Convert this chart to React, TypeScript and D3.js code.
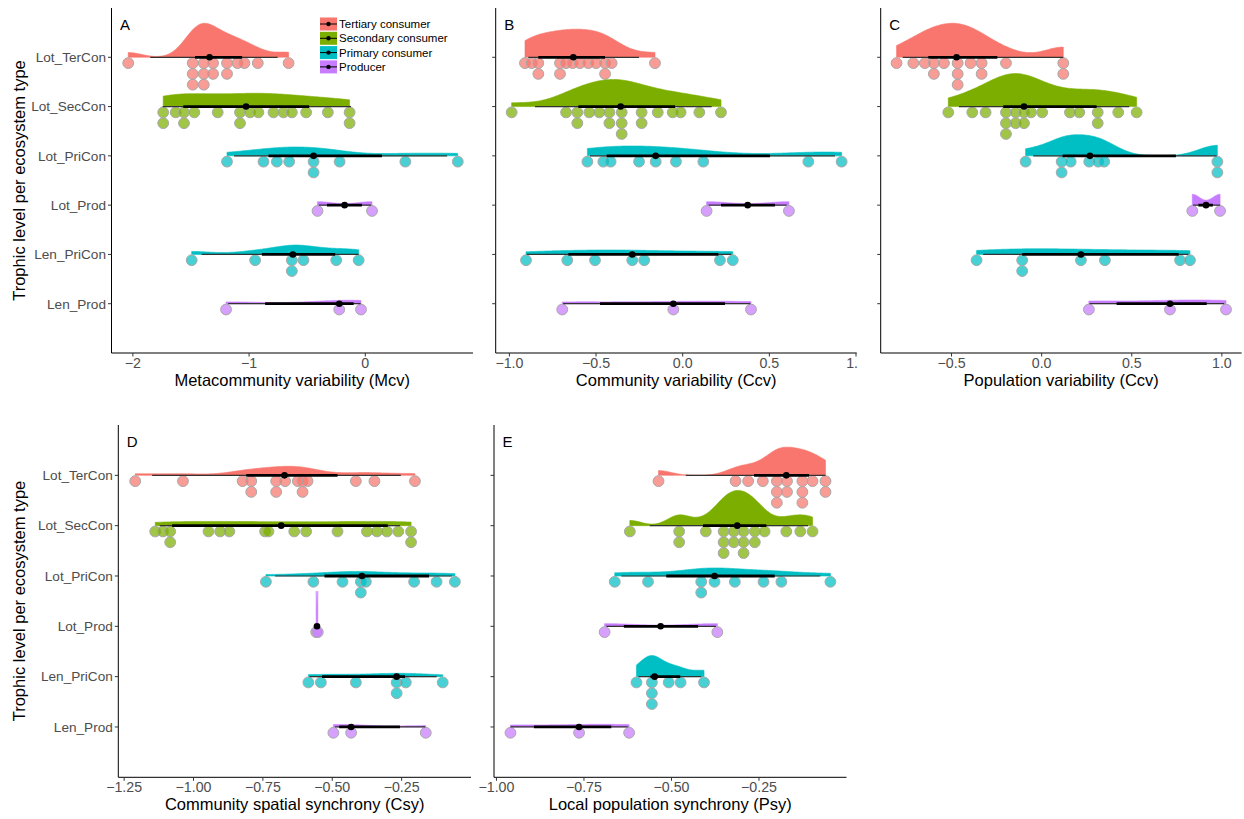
import React from "react";
import * as d3 from "d3";

// categories on the y axis (top to bottom) and their trophic level
const categories = ["Lot_TerCon", "Lot_SecCon", "Lot_PriCon", "Lot_Prod", "Len_PriCon", "Len_Prod"];
const trophicLevels = ["Tertiary consumer", "Secondary consumer", "Primary consumer", "Producer"];
const categoryLevel = [0, 1, 2, 3, 2, 3];
const levelColors = ["#F8766D", "#7CAE00", "#00BFC4", "#C77CFF"];

// A: Metacommunity variability (Mcv)
const mcvDots = [
  [-2.04, -1.485, -1.485, -1.485, -1.39, -1.39, -1.39, -1.31, -1.31, -1.19, -1.19, -1.1, -1.04, -0.925, -0.66],
  [-1.739, -1.739, -1.632, -1.56, -1.56, -1.471, -1.27, -1.078, -1.078, -0.991, -0.92, -0.79, -0.704, -0.632, -0.509, -0.322, -0.135, -0.135],
  [-1.19, -0.876, -0.761, -0.655, -0.445, -0.445, -0.221, 0.345, 0.796],
  [-0.411, 0.058],
  [-1.494, -0.948, -0.632, -0.632, -0.532, -0.25, -0.057],
  [-1.198, -0.224, -0.037],
];
const mcvMedian = [-1.34, -1.026, -0.445, -0.178, -0.623, -0.224];
const mcvInner = [[-1.465, -1.06], [-1.566, -0.483], [-0.833, 0.144], [-0.33, -0.029], [-0.89, -0.259], [-0.862, -0.1]];
const mcvOuter = [[-1.85, -0.755], [-1.744, -0.123], [-1.129, 0.704], [-0.4, 0.05], [-1.408, -0.057], [-1.18, -0.04]];
const mcvPeak = [0.69, 0.27, 0.18, 0.07, 0.19, 0.07];

// B: Community variability (Ccv)
const ccvDots = [
  [-0.91, -0.871, -0.833, -0.833, -0.708, -0.708, -0.673, -0.635, -0.593, -0.545, -0.5, -0.448, -0.448, -0.41, -0.16],
  [-0.987, -0.673, -0.608, -0.608, -0.539, -0.481, -0.423, -0.423, -0.352, -0.352, -0.352, -0.237, -0.237, -0.144, -0.058, -0.012, 0.096, 0.221],
  [-0.55, -0.458, -0.416, -0.252, -0.156, -0.039, 0.119, 0.725, 0.917],
  [0.138, 0.613],
  [-0.904, -0.666, -0.506, -0.291, -0.222, 0.215, 0.289],
  [-0.695, -0.054, 0.394],
];
const ccvMedian = [-0.631, -0.358, -0.156, 0.375, -0.291, -0.054];
const ccvInner = [[-0.833, -0.448], [-0.602, -0.044], [-0.439, 0.504], [0.221, 0.533], [-0.66, 0.206], [-0.477, 0.244]];
const ccvOuter = [[-0.891, -0.252], [-0.852, 0.167], [-0.535, 0.879], [0.15, 0.6], [-0.9, 0.28], [-0.69, 0.39]];
const ccvPeak = [0.57, 0.55, 0.2, 0.07, 0.09, 0.05];

// C: Population variability (Ccv)
const popDots = [
  [-0.805, -0.712, -0.648, -0.598, -0.598, -0.542, -0.466, -0.466, -0.466, -0.394, -0.333, -0.333, -0.198, 0.12, 0.12],
  [-0.518, -0.385, -0.311, -0.198, -0.198, -0.198, -0.144, -0.144, -0.098, -0.098, -0.059, 0.003, 0.157, 0.209, 0.311, 0.311, 0.425, 0.527],
  [-0.089, 0.111, 0.111, 0.161, 0.264, 0.314, 0.347, 0.975, 0.975],
  [0.836, 0.99],
  [-0.361, -0.108, -0.108, 0.218, 0.351, 0.768, 0.823],
  [0.262, 0.712, 1.023],
];
const popMedian = [-0.472, -0.098, 0.268, 0.912, 0.218, 0.712];
const popInner = [[-0.629, -0.246], [-0.213, 0.305], [0.116, 0.745], [0.87, 0.95], [-0.108, 0.76], [0.416, 0.916]];
const popOuter = [[-0.771, 0.12], [-0.459, 0.486], [-0.046, 0.971], [0.84, 0.99], [-0.324, 0.814], [0.266, 1.013]];
const popPeak = [0.69, 0.67, 0.43, 0.22, 0.115, 0.075];

// D: Community spatial synchrony (Csy)
const csyDots = [
  [-1.21, -1.038, -0.823, -0.792, -0.792, -0.702, -0.702, -0.67, -0.624, -0.607, -0.607, -0.589, -0.415, -0.348, -0.202],
  [-1.138, -1.11, -1.084, -1.084, -0.946, -0.904, -0.871, -0.742, -0.73, -0.637, -0.594, -0.481, -0.375, -0.339, -0.303, -0.262, -0.216, -0.216],
  [-0.739, -0.568, -0.463, -0.397, -0.397, -0.379, -0.205, -0.124, -0.058],
  [-0.558, -0.552],
  [-0.586, -0.541, -0.415, -0.268, -0.268, -0.235, -0.102],
  [-0.496, -0.432, -0.163],
];
const csyMedian = [-0.672, -0.684, -0.393, -0.555, -0.268, -0.432];
const csyInner = [[-0.81, -0.481], [-1.077, -0.3], [-0.528, -0.151], [-0.557, -0.553], [-0.537, -0.238], [-0.475, -0.256]];
const csyOuter = [[-1.149, -0.253], [-1.122, -0.256], [-0.706, -0.069], [-0.558, -0.552], [-0.582, -0.124], [-0.49, -0.165]];
const csyPeak = [0.18, 0.085, 0.09, 0.7, 0.066, 0.05];

// E: Local population synchrony (Psy)
const psyDots = [
  [-0.537, -0.317, -0.281, -0.239, -0.199, -0.199, -0.199, -0.17, -0.17, -0.126, -0.126, -0.126, -0.097, -0.06, -0.06],
  [-0.619, -0.478, -0.478, -0.402, -0.351, -0.351, -0.351, -0.322, -0.322, -0.294, -0.294, -0.294, -0.262, -0.262, -0.234, -0.172, -0.132, -0.097],
  [-0.662, -0.567, -0.415, -0.415, -0.377, -0.319, -0.237, -0.186, -0.046],
  [-0.691, -0.369],
  [-0.6, -0.556, -0.556, -0.556, -0.508, -0.474, -0.407],
  [-0.96, -0.764, -0.621],
];
const psyMedian = [-0.172, -0.312, -0.377, -0.531, -0.548, -0.764];
const psyInner = [[-0.264, -0.107], [-0.41, -0.229], [-0.515, -0.205], [-0.636, -0.424], [-0.56, -0.475], [-0.893, -0.672]];
const psyOuter = [[-0.459, -0.06], [-0.562, -0.11], [-0.643, -0.075], [-0.686, -0.373], [-0.594, -0.415], [-0.96, -0.625]];
const psyPeak = [0.56, 0.7, 0.16, 0.053, 0.42, 0.053];

const FONT = "'Liberation Sans', Arial, Helvetica, sans-serif";
const DOT_R = 5.4;

const panels = [
  { id: "A", title: "Metacommunity variability (Mcv)", left: 111.5, right: 473, top: 8, bottom: 353,
    domain: [-2.184, 0.927], ticks: [-2, -1, 0], fmt: "d", yLabels: true,
    dots: mcvDots, median: mcvMedian, inner: mcvInner, outer: mcvOuter, peak: mcvPeak },
  { id: "B", title: "Community variability (Ccv)", left: 495.7, right: 856.7, top: 8, bottom: 353,
    domain: [-1.079, 1.004], ticks: [-1, -0.5, 0, 0.5, 1], fmt: ".1f", yLabels: false, clipRight: 858,
    dots: ccvDots, median: ccvMedian, inner: ccvInner, outer: ccvOuter, peak: ccvPeak },
  { id: "C", title: "Population variability (Ccv)", left: 880.7, right: 1241.7, top: 8, bottom: 353,
    domain: [-0.893, 1.11], ticks: [-0.5, 0, 0.5, 1], fmt: ".1f", yLabels: false,
    dots: popDots, median: popMedian, inner: popInner, outer: popOuter, peak: popPeak },
  { id: "D", title: "Community spatial synchrony (Csy)", left: 118.3, right: 471, top: 425, bottom: 777.3,
    domain: [-1.271, 0], ticks: [-1.25, -1, -0.75, -0.5, -0.25], fmt: ".2f", yLabels: true,
    dots: csyDots, median: csyMedian, inner: csyInner, outer: csyOuter, peak: csyPeak },
  { id: "E", title: "Local population synchrony (Psy)", left: 494, right: 846.5, top: 425, bottom: 777.3,
    domain: [-1.007, 0], ticks: [-1, -0.75, -0.5, -0.25], fmt: ".2f", yLabels: false,
    dots: psyDots, median: psyMedian, inner: psyInner, outer: psyOuter, peak: psyPeak },
];

function nrd0(v: number[]) {
  const s = d3.deviation(v) || 0;
  const sorted = v.slice().sort(d3.ascending);
  const iqr = ((d3.quantileSorted(sorted, 0.75) as number) - (d3.quantileSorted(sorted, 0.25) as number)) / 1.34;
  let lo = Math.min(s, iqr);
  if (!(lo > 0)) lo = s || 0.01;
  return 0.9 * lo * Math.pow(v.length, -0.2);
}

function Panel({ p }: { p: any }) {
  const x = d3.scaleLinear().domain(p.domain).range([p.left, p.right]);
  const y = d3.scalePoint<string>().domain(categories).range([p.top, p.bottom]).padding(1);
  const step = y.step();
  const fmt = d3.format(p.fmt);

  return (
    <g clipPath={p.clipRight ? `url(#clip-${p.id})` : undefined}>
      {p.clipRight && (
        <defs>
          <clipPath id={`clip-${p.id}`}>
            <rect x={p.left - 30} y={p.top - 10} width={p.clipRight - p.left + 30} height={p.bottom - p.top + 60} />
          </clipPath>
        </defs>
      )}
      {categories.map((c, i) => {
        const vals: number[] = p.dots[i];
        const col = levelColors[categoryLevel[i]];
        const base = y(c) as number;
        const bw = nrd0(vals);
        const [lo, hi] = d3.extent(vals) as [number, number];
        const xs = d3.range(0, 161).map((k) => lo + ((hi - lo) * k) / 160);
        const dens = xs.map((t) => d3.sum(vals, (v) => Math.exp(-0.5 * ((t - v) / bw) ** 2)));
        const maxD = d3.max(dens) as number;
        const h = p.peak[i] * step;
        const slab = d3
          .area<number>()
          .x((_, k) => x(xs[k]))
          .y0(base)
          .y1((d) => base - (h * d) / maxD)(dens);

        const stacks = d3.groups(vals, (v) => v);
        return (
          <g key={c}>
            <path d={slab || ""} fill={col} stroke={col} strokeWidth={0.6} />
            {stacks.map(([v, arr]) =>
              arr.map((_, k) => (
                <circle
                  key={`${v}-${k}`}
                  cx={x(v)}
                  cy={base + DOT_R + 0.4 + k * 2 * DOT_R}
                  r={DOT_R}
                  fill={col}
                  fillOpacity={0.72}
                  stroke="#a8a8a8"
                  strokeWidth={1}
                />
              ))
            )}
            <line x1={x(p.outer[i][0])} x2={x(p.outer[i][1])} y1={base} y2={base} stroke="#333" strokeWidth={1.2} />
            <line x1={x(p.inner[i][0])} x2={x(p.inner[i][1])} y1={base} y2={base} stroke="#000" strokeWidth={2.8} />
            <circle cx={x(p.median[i])} cy={base} r={3.3} fill="#000" />
          </g>
        );
      })}

      {/* axes */}
      <line x1={p.left} x2={p.left} y1={p.top} y2={p.bottom} stroke="#000" strokeWidth={1} />
      <line x1={p.left} x2={p.right} y1={p.bottom} y2={p.bottom} stroke="#000" strokeWidth={1} />
      {categories.map((c) => (
        <g key={c}>
          <line x1={p.left - 3.5} x2={p.left} y1={y(c)} y2={y(c)} stroke="#333" strokeWidth={1} />
          {p.yLabels && (
            <text x={p.left - 5.5} y={(y(c) as number) + 4.8} textAnchor="end" fontSize={13.6} fill="#4d4d4d" fontFamily={FONT}>
              {c}
            </text>
          )}
        </g>
      ))}
      {p.ticks.map((t: number) => (
        <g key={t}>
          <line x1={x(t)} x2={x(t)} y1={p.bottom} y2={p.bottom + 3.5} stroke="#333" strokeWidth={1} />
          <text x={x(t)} y={p.bottom + 15} textAnchor="middle" fontSize={14.2} fill="#4d4d4d" fontFamily={FONT}>
            {fmt(t)}
          </text>
        </g>
      ))}
      <text x={(p.left + p.right) / 2} y={p.bottom + 32.5} textAnchor="middle" fontSize={16.5} fill="#000" fontFamily={FONT}>
        {p.title}
      </text>
      <text x={p.left + 8.5} y={p.top + 21.5} fontSize={15} fill="#000" fontFamily={FONT}>
        {p.id}
      </text>
    </g>
  );
}

function Legend({ x0, y0 }: { x0: number; y0: number }) {
  return (
    <g>
      {trophicLevels.map((lv, i) => {
        const yy = y0 + i * 14.3;
        return (
          <g key={lv}>
            <rect x={x0} y={yy - 6.5} width={17} height={13} fill={levelColors[i]} />
            <line x1={x0} x2={x0 + 17} y1={yy} y2={yy} stroke="#000" strokeWidth={1} />
            <circle cx={x0 + 8.5} cy={yy} r={2.2} fill="#000" />
            <text x={x0 + 19} y={yy + 4} fontSize={11.5} fill="#000" fontFamily={FONT}>
              {lv}
            </text>
          </g>
        );
      })}
    </g>
  );
}

export default function App() {
  const width = 1244,
    height = 819;
  return (
    <svg width={width} height={height} style={{ position: "absolute", left: 0, top: 0, background: "#fff" }}>
      <rect width={width} height={height} fill="#fff" />
      {panels.map((p) => (
        <Panel key={p.id} p={p} />
      ))}
      <Legend x0={320} y0={24} />
      <text transform="translate(24.5, 180.5) rotate(-90)" textAnchor="middle" fontSize={16.5} fill="#000" fontFamily={FONT}>
        Trophic level per ecosystem type
      </text>
      <text transform="translate(24.5, 601) rotate(-90)" textAnchor="middle" fontSize={16.5} fill="#000" fontFamily={FONT}>
        Trophic level per ecosystem type
      </text>
    </svg>
  );
}
